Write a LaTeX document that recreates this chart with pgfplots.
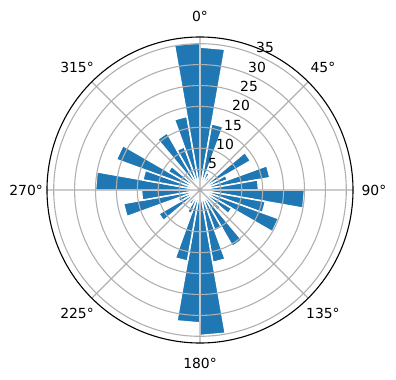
\documentclass[border=0pt]{standalone}
\usepackage{fontspec}
\setmainfont{DejaVu Sans}
\usepackage{pgfplots}
\pgfplotsset{compat=1.18}
\usepgfplotslibrary{polar}
\definecolor{mplblue}{HTML}{1F77B4}
\definecolor{gridgray}{HTML}{B0B0B0}
\tikzset{lbl/.style={font=\fontsize{13.9bp}{16bp}\selectfont, inner sep=0pt}}
\pgfplotsset{rb/.style={fill=mplblue, draw=white, line width=1.5bp, line join=miter, mark=none}}
\begin{document}
\begin{tikzpicture}
\useasboundingbox (-200bp,-190bp) rectangle (196bp,190bp);
\begin{polaraxis}[
  at={(0,0)}, anchor=origin,
  scale only axis, width=306bp, height=306bp,
  xmin=0, xmax=360, ymin=0, ymax=36.6,
  xtick={0,45,...,315}, ytick={5,10,...,35},
  xticklabels={}, yticklabels={},
  major tick length=0pt,
  grid=major,
  major grid style={draw=gridgray, line width=1.1bp},
  axis on top,
  clip=false,
  x axis line style={draw=black, line width=1.1bp},
  y axis line style={draw=none},
]
\addplot[rb] coordinates {(90,0) (90,34.2) (80,34.2) (80,0)} --cycle;
\addplot[rb] coordinates {(80,0) (80,16.1) (70,16.1) (70,0)} --cycle;
\addplot[rb] coordinates {(70,0) (70,4.5) (60,4.5) (60,0)} --cycle;
\addplot[rb] coordinates {(60,0) (60,3.5) (50,3.5) (50,0)} --cycle;
\addplot[rb] coordinates {(50,0) (50,4.0) (40,4.0) (40,0)} --cycle;
\addplot[rb] coordinates {(40,0) (40,14.0) (30,14.0) (30,0)} --cycle;
\addplot[rb] coordinates {(30,0) (30,7.0) (20,7.0) (20,0)} --cycle;
\addplot[rb] coordinates {(20,0) (20,17.0) (10,17.0) (10,0)} --cycle;
\addplot[rb] coordinates {(10,0) (10,14.0) (0,14.0) (0,0)} --cycle;
\addplot[rb] coordinates {(360,0) (360,25.0) (350,25.0) (350,0)} --cycle;
\addplot[rb] coordinates {(350,0) (350,15.9) (340,15.9) (340,0)} --cycle;
\addplot[rb] coordinates {(340,0) (340,20.0) (330,20.0) (330,0)} --cycle;
\addplot[rb] coordinates {(330,0) (330,8.8) (320,8.8) (320,0)} --cycle;
\addplot[rb] coordinates {(320,0) (320,6.5) (310,6.5) (310,0)} --cycle;
\addplot[rb] coordinates {(310,0) (310,15.6) (300,15.6) (300,0)} --cycle;
\addplot[rb] coordinates {(300,0) (300,10.4) (290,10.4) (290,0)} --cycle;
\addplot[rb] coordinates {(290,0) (290,17.6) (280,17.6) (280,0)} --cycle;
\addplot[rb] coordinates {(280,0) (280,34.8) (270,34.8) (270,0)} --cycle;
\addplot[rb] coordinates {(270,0) (270,31.8) (260,31.8) (260,0)} --cycle;
\addplot[rb] coordinates {(260,0) (260,17.3) (250,17.3) (250,0)} --cycle;
\addplot[rb] coordinates {(250,0) (250,6.0) (240,6.0) (240,0)} --cycle;
\addplot[rb] coordinates {(240,0) (240,4.0) (230,4.0) (230,0)} --cycle;
\addplot[rb] coordinates {(230,0) (230,3.0) (220,3.0) (220,0)} --cycle;
\addplot[rb] coordinates {(220,0) (220,11.4) (210,11.4) (210,0)} --cycle;
\addplot[rb] coordinates {(210,0) (210,5.6) (200,5.6) (200,0)} --cycle;
\addplot[rb] coordinates {(200,0) (200,18.6) (190,18.6) (190,0)} --cycle;
\addplot[rb] coordinates {(190,0) (190,14.0) (180,14.0) (180,0)} --cycle;
\addplot[rb] coordinates {(180,0) (180,25.0) (170,25.0) (170,0)} --cycle;
\addplot[rb] coordinates {(170,0) (170,13.9) (160,13.9) (160,0)} --cycle;
\addplot[rb] coordinates {(160,0) (160,21.3) (150,21.3) (150,0)} --cycle;
\addplot[rb] coordinates {(150,0) (150,8.8) (140,8.8) (140,0)} --cycle;
\addplot[rb] coordinates {(140,0) (140,5.0) (130,5.0) (130,0)} --cycle;
\addplot[rb] coordinates {(130,0) (130,15.8) (120,15.8) (120,0)} --cycle;
\addplot[rb] coordinates {(120,0) (120,11.0) (110,11.0) (110,0)} --cycle;
\addplot[rb] coordinates {(110,0) (110,17.9) (100,17.9) (100,0)} --cycle;
\addplot[rb] coordinates {(100,0) (100,35.2) (90,35.2) (90,0)} --cycle;
% angular labels (clockwise from north)
\node[lbl] at (axis cs:90,41.6) {0°};
\node[lbl] at (axis cs:45,41.6) {45°};
\node[lbl] at (axis cs:0,41.6) {90°};
\node[lbl] at (axis cs:315,41.6) {135°};
\node[lbl] at (axis cs:270,41.6) {180°};
\node[lbl] at (axis cs:225,41.6) {225°};
\node[lbl] at (axis cs:180,41.6) {270°};
\node[lbl] at (axis cs:135,41.6) {315°};
% radial labels
\foreach \r in {5,10,...,35}{
  \edef\tmp{\noexpand\node[lbl, anchor=south west, inner ysep=1.5bp] at (axis cs:67.5,\r) {\r};}
  \tmp
}
\end{polaraxis}
\end{tikzpicture}
\end{document}
